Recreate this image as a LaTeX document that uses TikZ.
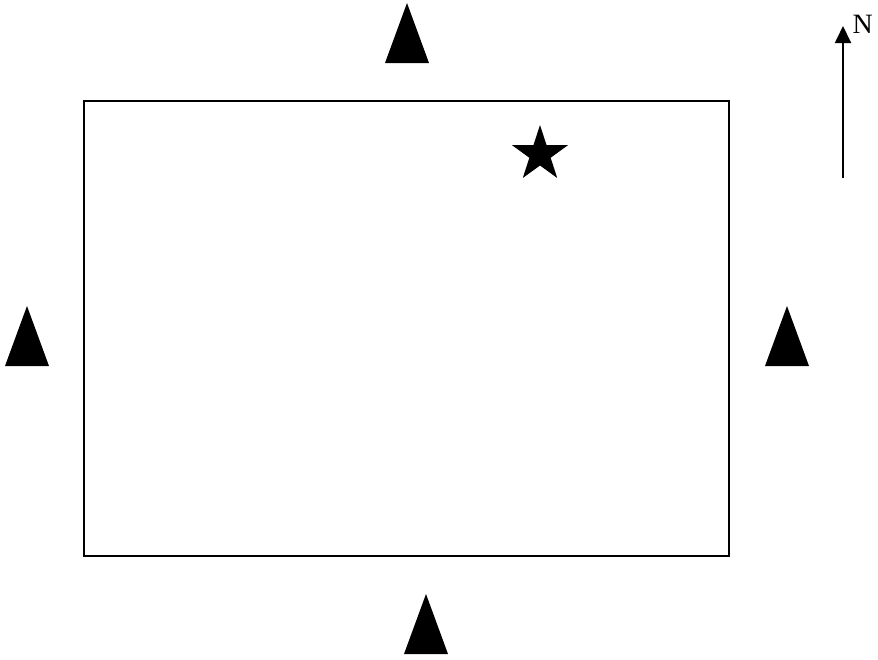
\documentclass[tikz,border=0pt]{standalone}
\usepackage{fontspec}
\setmainfont{Liberation Serif}
\usetikzlibrary{arrows.meta,calc}
\begin{document}
\begin{tikzpicture}[x=1pt,y=-1pt,
  marker/.style={fill=black,draw=none},
  frame/.style={draw=black,line width=1.4pt}]
\useasboundingbox (0,0) rectangle (878,659);
% site boundary
\draw[frame] (84,101) rectangle (729,556);
% triangles
\fill[marker] (407,3) -- (429,63) -- (385,63) -- cycle;
\fill[marker] (27,306) -- (49,366) -- (5,366) -- cycle;
\fill[marker] (787,306) -- (809,366) -- (765,366) -- cycle;
\fill[marker] (426,594) -- (448,654) -- (404,654) -- cycle;
% star
\coordinate (sc) at (540,154.3);
\fill[marker] ($(sc)+(-90:29.3)$)
  \foreach \i in {1,...,9}{ -- ($(sc)+({-90+\i*36}:{ifthenelse(mod(\i,2)==1,11.2,29.3)})$) } -- cycle;
% north arrow
\coordinate (nbase) at (843,178);
\coordinate (ntip) at (843,26);
\draw[line width=1.8pt,-{Triangle[length=17pt,width=16pt]}] (nbase) -- (ntip);
\node[anchor=south west,inner sep=0pt] (nlabel) at (852.5,33.5) {\fontsize{28pt}{28pt}\selectfont N};
\end{tikzpicture}
\end{document}
